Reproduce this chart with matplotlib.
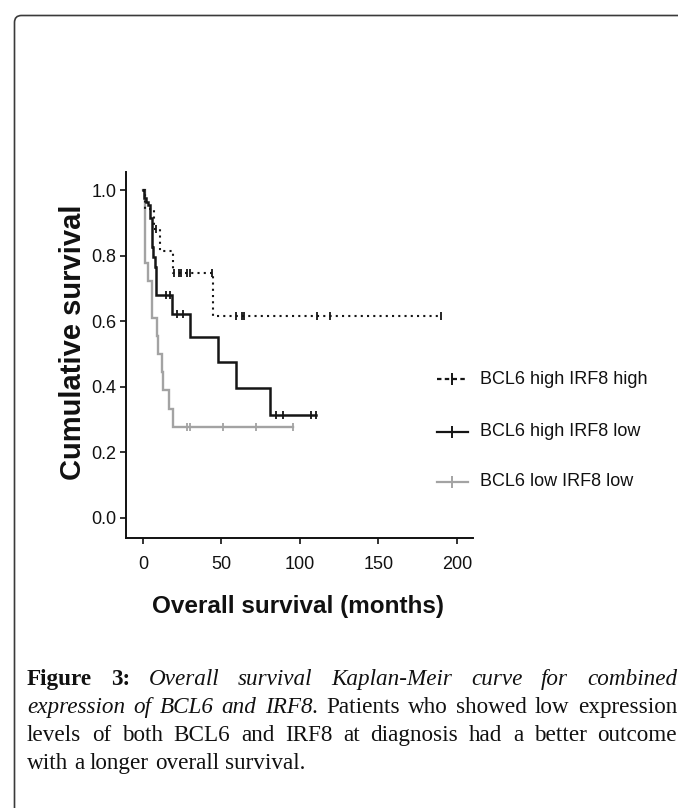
import numpy as np
import matplotlib
matplotlib.use("Agg")
import matplotlib.pyplot as plt
from matplotlib.lines import Line2D
from matplotlib.patches import FancyBboxPatch
from matplotlib.transforms import IdentityTransform

plt.rcParams['font.family'] = ['Liberation Sans', 'DejaVu Sans']

# ---------------- data ----------------
hh_label = "BCL6 high IRF8 high"
hh_times = [1.3, 7.2, 10.8, 19.0, 44.8]
hh_surv = [0.941, 0.882, 0.814, 0.746, 0.617]
hh_censor = [8.5, 20.0, 23.0, 24.5, 28.0, 30.0, 44.0, 59.0, 63.0, 64.5, 111.0, 119.0, 190.0]

hl_label = "BCL6 high IRF8 low"
hl_times = [0.5, 2.0, 3.0, 4.5, 5.5, 6.5, 7.5, 8.2, 18.3, 30.0, 48.0, 59.0, 81.0]
hl_surv = [0.975, 0.965, 0.955, 0.915, 0.825, 0.795, 0.765, 0.680, 0.622, 0.552, 0.475, 0.395, 0.315]
hl_censor = [14.5, 17.2, 21.8, 25.6, 84.7, 89.0, 107.0, 110.0]

ll_label = "BCL6 low IRF8 low"
ll_times = [1.0, 3.4, 5.5, 8.7, 9.7, 11.9, 12.9, 16.8, 19.3]
ll_surv = [0.778, 0.722, 0.611, 0.556, 0.500, 0.444, 0.389, 0.333, 0.278]
ll_censor = [27.8, 30.0, 50.8, 72.0, 95.7]

x_ticks = [0, 50, 100, 150, 200]
y_ticks = [0.0, 0.2, 0.4, 0.6, 0.8, 1.0]
y_ticklabels = ["0.0", "0.2", "0.4", "0.6", "0.8", "1.0"]
x_label = "Overall survival (months)"
y_label = "Cumulative survival"

caption_lines = [
    ([("Figure", "b"), ("3:", "b"), ("Overall", "i"), ("survival", "i"), ("Kaplan-Meir", "i"),
      ("curve", "i"), ("for", "i"), ("combined", "i")], True),
    ([("expression", "i"), ("of", "i"), ("BCL6", "i"), ("and", "i"), ("IRF8.", "i"),
      ("Patients", "n"), ("who", "n"), ("showed", "n"), ("low", "n"), ("expression", "n")], True),
    ([(w, "n") for w in "levels of both BCL6 and IRF8 at diagnosis had a better outcome".split()], True),
    ([(w, "n") for w in "with a longer overall survival.".split()], False),
]

# ---------------- figure ----------------
W, H = 678, 808
fig = plt.figure(figsize=(W / 100, H / 100), dpi=100)
fig.patch.set_facecolor("white")

def fx(x):
    return x / W

def fy(y):
    return 1 - y / H

# border box
box = FancyBboxPatch((14.5, -30), 720, H - 15.5 + 30,
                     boxstyle="round,pad=0,rounding_size=7",
                     transform=IdentityTransform(), fill=False,
                     ec="#3a3a3a", lw=1.2)
fig.add_artist(box)

ax = fig.add_axes([fx(126), fy(538), (473 - 126) / W, (538 - 172) / H])
ax.set_xlim(-10.8, 210.2)
ax.set_ylim(-0.061, 1.055)
for s in ["top", "right"]:
    ax.spines[s].set_visible(False)
for s in ["left", "bottom"]:
    ax.spines[s].set_linewidth(1.4)
    ax.spines[s].set_color("#111111")
ax.set_xticks(x_ticks)
ax.set_yticks(y_ticks)
ax.set_yticklabels(y_ticklabels)
ax.tick_params(direction="out", length=4, width=1.2, labelsize=13, colors="#111111")
ax.tick_params(axis="x", pad=9)
ax.tick_params(axis="y", pad=3)

BLACK = "#151515"
GRAY = "#a3a3a3"
DOTS = (0, (1, 2))

def km(ax, times, surv, censor, color, ls, lw):
    t = np.asarray(times, float)
    s = np.asarray(surv, float)
    end = max(censor[-1], t[-1])
    xs = np.concatenate([[0.0], t, [end]])
    ys = np.concatenate([[1.0], s, [s[-1]]])
    ax.step(xs, ys, where="post", color=color, ls=ls, lw=lw, solid_joinstyle="miter")
    c = np.asarray(censor, float)
    idx = np.searchsorted(t, c, side="right")
    cy = np.concatenate([[1.0], s])[idx]
    ax.plot(c, cy, ls="none", marker="|", ms=6, mew=1.3, color=color)

km(ax, ll_times, ll_surv, ll_censor, GRAY, "-", 1.7)
km(ax, hl_times, hl_surv, hl_censor, BLACK, "-", 1.8)
km(ax, hh_times, hh_surv, hh_censor, BLACK, DOTS, 1.5)

# axis labels
fig.text(fx(298), fy(607), x_label, ha="center", va="center",
         fontsize=17.5, fontweight="bold", color="#111111")
fig.text(fx(73), fy(342), y_label, ha="center", va="center", rotation=90,
         fontsize=21, fontweight="bold", color="#111111")

# legend
entries = [(hh_label, BLACK, (0, (2, 1.5)), 379),
           (hl_label, BLACK, "-", 432),
           (ll_label, GRAY, "-", 482)]
for lab, col, ls, yy in entries:
    fig.add_artist(Line2D([fx(437), fx(468)], [fy(yy), fy(yy)], color=col, ls=ls, lw=1.6,
                          transform=fig.transFigure))
    fig.add_artist(Line2D([fx(452.5)], [fy(yy)], marker="|", ms=9, mew=1.4, color=col,
                          transform=fig.transFigure))
    fig.text(fx(480), fy(yy), lab, ha="left", va="center", fontsize=13, color="#111111")

# caption (justified)
renderer = fig.canvas.get_renderer()
cap_fs = 16.7
x0, x1 = 27, 677
baselines = [685, 713, 741, 769]
for (words, justify), base in zip(caption_lines, baselines):
    texts = []
    for w, st in words:
        kw = dict(fontfamily="Liberation Serif", fontsize=cap_fs, color="#111111")
        if st == "b":
            kw["fontweight"] = "bold"
        if st == "i":
            kw["fontstyle"] = "italic"
        t = fig.text(0, 0, w, transform=IdentityTransform(), ha="left", va="baseline", **kw)
        texts.append(t)
    widths = [t.get_window_extent(renderer).width for t in texts]
    if justify and len(texts) > 1:
        gap = (x1 - x0 - sum(widths)) / (len(texts) - 1)
    else:
        sp = fig.text(0, 0, "a a", fontfamily="Liberation Serif", fontsize=cap_fs)
        sp2 = fig.text(0, 0, "aa", fontfamily="Liberation Serif", fontsize=cap_fs)
        gap = sp.get_window_extent(renderer).width - sp2.get_window_extent(renderer).width
        sp.remove(); sp2.remove()
    x = x0
    for t, wdt in zip(texts, widths):
        t.set_position((x, H - base))
        x += wdt + gap

fig.savefig("out.png", dpi=100, facecolor="white")
